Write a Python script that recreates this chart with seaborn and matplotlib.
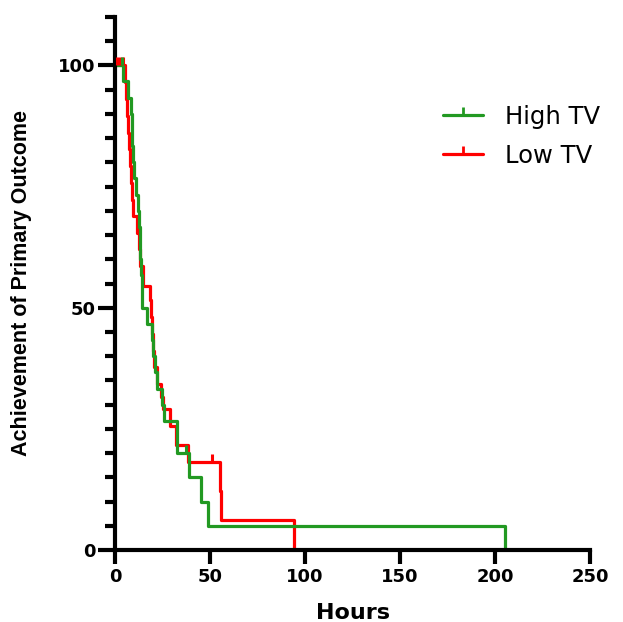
import matplotlib
matplotlib.use('Agg')
import matplotlib.pyplot as plt
import seaborn as sns
from matplotlib.lines import Line2D
from matplotlib.ticker import MultipleLocator

# ---- data ----
groups = ['High TV', 'Low TV']

high_time = [0, 4.2, 6.8, 8.2, 8.8, 9.2, 9.6, 10.2, 10.8, 12.3, 12.6, 13.0, 13.3,
             13.8, 14.1, 14.3, 16.8, 19.5, 20.0, 21.0, 22.0, 24.7, 26.0, 32.6,
             39.0, 45.5, 49.0, 205.0]
high_surv = [100, 96.7, 93.3, 90.0, 86.7, 83.3, 80.0, 76.7, 73.3, 70.0, 66.7, 63.3, 60.0,
             56.7, 53.3, 50.0, 46.7, 43.3, 40.0, 36.7, 33.3, 30.0, 26.7, 20.0,
             15.0, 10.0, 5.0, 0.0]
high_cens_time = [3.6, 37.5]
high_cens_surv = [100, 20.0]

low_time = [0, 5.3, 6.0, 6.5, 7.0, 7.5, 8.0, 8.5, 9.0, 9.5, 11.6, 12.5, 13.2, 14.7,
            18.4, 18.8, 19.4, 20.0, 20.6, 22.0, 24.0, 25.3, 28.9, 32.0, 38.5,
            55.2, 55.8, 94.0]
low_surv = [100, 96.5, 93.0, 89.6, 86.1, 82.7, 79.2, 75.8, 72.3, 69.0, 65.5, 62.1, 58.6, 54.5,
            51.5, 48.0, 44.6, 41.1, 37.7, 34.3, 31.5, 29.0, 25.5, 21.7, 18.2,
            12.1, 6.1, 0.0]
low_cens_time = [1.2, 2.6, 4.0, 50.8]
low_cens_surv = [100, 100, 100, 18.2]

x_ticks = [0, 50, 100, 150, 200, 250]
y_ticks = [0, 50, 100]

GREEN = '#229922'
RED = '#FF0000'

sns.set_style('ticks')
plt.rcParams['font.family'] = ['DejaVu Sans']
plt.rcParams.update({'text.color': 'black', 'axes.labelcolor': 'black',
                     'xtick.color': 'black', 'ytick.color': 'black',
                     'axes.edgecolor': 'black'})

fig = plt.figure(figsize=(6.23, 6.22), dpi=100)
ax = fig.add_axes([115 / 623, 72 / 622, 475 / 623, 533 / 622])

LW = 2.3
sns.lineplot(x=low_time, y=low_surv, drawstyle='steps-post', estimator=None,
             sort=False, color=RED, lw=LW, ax=ax)
sns.lineplot(x=high_time, y=high_surv, drawstyle='steps-post', estimator=None,
             sort=False, color=GREEN, lw=LW, ax=ax)
sns.scatterplot(x=low_cens_time, y=low_cens_surv, marker=2, s=30, color=RED,
                edgecolor=RED, linewidth=2.2, ax=ax, zorder=3)
sns.scatterplot(x=high_cens_time, y=high_cens_surv, marker=2, s=30, color=GREEN,
                edgecolor=GREEN, linewidth=2.2, ax=ax, zorder=4)

ax.set_xlim(0, 250)
ax.set_ylim(0, 110)
ax.set_xticks(x_ticks)
ax.set_xticklabels([str(v) for v in x_ticks])
ax.set_yticks(y_ticks)
ax.set_yticklabels([str(v) for v in y_ticks])
ax.yaxis.set_minor_locator(MultipleLocator(5))

for s in ['top', 'right']:
    ax.spines[s].set_visible(False)
for s in ['left', 'bottom']:
    ax.spines[s].set_linewidth(3)
    ax.spines[s].set_color('black')

ax.tick_params(axis='y', which='major', length=12, width=3, labelsize=13, pad=2,
               color='black', labelcolor='black')
ax.tick_params(axis='y', which='minor', length=7, width=3, color='black')
ax.tick_params(axis='x', which='major', length=10, width=3, labelsize=13, pad=3,
               color='black', labelcolor='black')
for lbl in ax.get_xticklabels() + ax.get_yticklabels():
    lbl.set_fontweight('bold')

ax.set_xlabel('Hours', fontsize=16, fontweight='bold', labelpad=12, color='black')
ax.set_ylabel('Achievement of Primary Outcome', fontsize=15.5, fontweight='bold',
              family=['Liberation Sans', 'DejaVu Sans'], labelpad=19, color='black')

handles = [Line2D([], [], color=GREEN, lw=LW, marker=2, markersize=6, markeredgewidth=2),
           Line2D([], [], color=RED, lw=LW, marker=2, markersize=6, markeredgewidth=2)]
ax.legend(handles, groups, loc='upper left', bbox_to_anchor=(443 / 623, 1 - 105 / 622),
          bbox_transform=fig.transFigure, frameon=False, fontsize=17.5, numpoints=1,
          handlelength=1.65, handletextpad=0.9, labelspacing=0.6, borderpad=0,
          borderaxespad=0, labelcolor='black')

fig.savefig('out.png', dpi=100, facecolor='white')
